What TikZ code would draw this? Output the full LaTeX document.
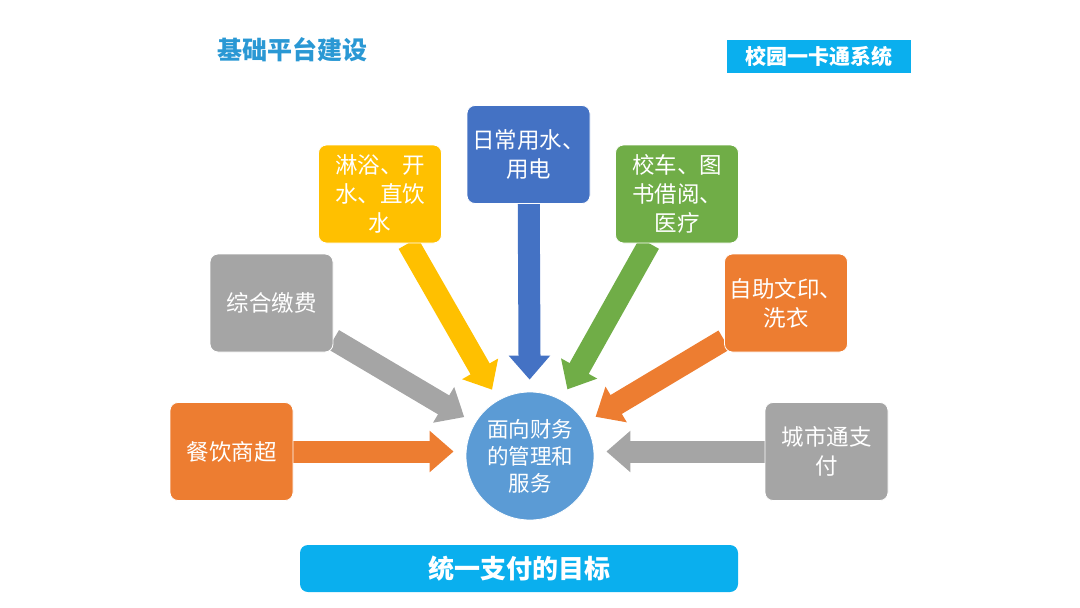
\documentclass[tikz,border=0pt]{standalone}
\usepackage{fontspec}
\setmainfont{Noto Sans CJK SC}
\usetikzlibrary{arrows.meta,backgrounds}
\definecolor{cblue}{HTML}{4472C4}
\definecolor{cyellow}{HTML}{FFC000}
\definecolor{cgreen}{HTML}{70AD47}
\definecolor{cgray}{HTML}{A5A5A5}
\definecolor{corange}{HTML}{ED7D31}
\definecolor{ccircle}{HTML}{5B9BD5}
\definecolor{cbar}{HTML}{0AAFEE}
\definecolor{ctitle}{HTML}{2A98D4}
\tikzset{
  itembox/.style={rectangle, rounded corners=8pt, minimum width=123pt, minimum height=98pt,
    inner sep=0pt, draw=white, line width=0.8pt, text=white, align=center,
    font=\fontsize{22.5}{29}\selectfont},
  blockarrow/.style={line width=22pt, -{Triangle[width=40pt,length=24pt]}, shorten >=12pt},
}
\begin{document}
\begin{tikzpicture}[x=1pt,y=-1pt]
\useasboundingbox (0,0) rectangle (1080,608);

\node[text=ctitle, font=\fontsize{25}{28}\selectfont\bfseries] (title) at (292,50) {基础平台建设};
\node[fill=cbar, minimum width=184pt, minimum height=33pt, inner sep=0pt, text=white,
  font=\fontsize{21}{24}\selectfont\bfseries] (sys) at (819,56) {校园一卡通系统};

\node[circle, fill=ccircle, draw=white, line width=0.8pt, minimum size=128pt, inner sep=0pt,
  text=white, align=center, font=\fontsize{21.5}{27}\selectfont] (c) at (530,456) {面向财务\\的管理和\\服务};

\node[itembox, fill=cblue] (water) at (528.5,154.5) {日常用水、\\用电};
\node[itembox, fill=cyellow] (bath) at (380,194) {淋浴、开\\水、直饮\\水};
\node[itembox, fill=cgreen] (bus) at (677,194) {校车、图\\书借阅、\\医疗};
\node[itembox, fill=cgray] (fee) at (271.5,303) {综合缴费};
\node[itembox, fill=corange] (print) at (786,303) {自助文印、\\洗衣};
\node[itembox, fill=corange] (food) at (231.5,451.5) {餐饮商超};
\node[itembox, fill=cgray] (city) at (826.5,451.5) {城市通支\\付};

\begin{scope}[on background layer]
\draw[blockarrow, cblue] (water) -- (c);
\draw[blockarrow, cyellow] (bath) -- (c);
\draw[blockarrow, cgreen] (bus) -- (c);
\draw[blockarrow, cgray] (fee) -- (c);
\draw[blockarrow, corange] (print) -- (c);
\draw[blockarrow, corange] (food.east) -- (c.west |- food.east);
\draw[blockarrow, cgray] (city.west) -- (c.east |- city.west);
\end{scope}

\node[fill=cbar, rounded corners=8pt, minimum width=438pt, minimum height=47pt, inner sep=0pt,
  text=white, font=\fontsize{26}{30}\selectfont\bfseries] (goal) at (519,568.5) {统一支付的目标};
\end{tikzpicture}
\end{document}
